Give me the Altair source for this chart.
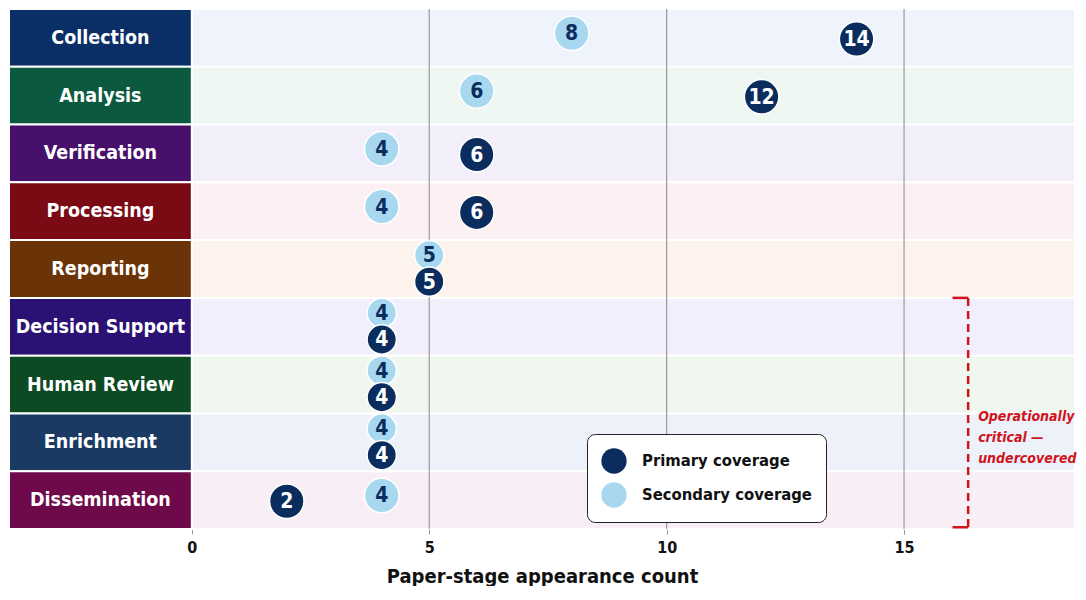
import altair as alt
import pandas as pd

# ---- data ----
stages = ["Collection", "Analysis", "Verification", "Processing", "Reporting",
          "Decision Support", "Human Review", "Enrichment", "Dissemination"]
primary = [14, 12, 6, 6, 5, 4, 4, 4, 2]
secondary = [8, 6, 4, 4, 5, 4, 4, 4, 4]
box_colors = ["#0a2f66", "#0b5a3f", "#47106a", "#7a0a14", "#6b3308",
              "#2a1173", "#0b4a22", "#1b3a63", "#6e0a4a"]
bg_colors = ["#eef3fc", "#eef7f2", "#f3effa", "#fcf0f2", "#fdf3ec",
             "#f1effb", "#f0f7ef", "#edf2fa", "#f8eef5"]
series_names = ["Primary coverage", "Secondary coverage"]
series_colors = ["#0b2d5e", "#a8d8f0"]
grid_values = [5, 10, 15]
tick_values = [0, 5, 10, 15]
note_lines = ["Operationally", "critical —", "undercovered"]

FONT = "Liberation Sans Narrow, DejaVu Sans Condensed, sans-serif"
XMIN, XMAX = -3.85, 18.6
W, H = 1066, 520

rows = pd.DataFrame({
    "stage": stages,
    "i": list(range(len(stages))),
    "box": box_colors,
    "bg": bg_colors,
})
rows["i1"] = rows["i"] + 1
rows["ic"] = rows["i"] + 0.5
rows["bx0"] = XMIN
rows["bx1"] = 0.0
rows["gx0"] = 0.0
rows["gx1"] = XMAX
rows["lx"] = XMIN / 2

pts = []
for k, s in enumerate(stages):
    same = primary[k] == secondary[k]
    pts.append({"stage": s, "series": series_names[1], "value": secondary[k],
                "y": k + 0.5 + (-0.24 if same else -0.08),
                "sz": 860 if same else 1190, "tc": series_colors[0]})
    pts.append({"stage": s, "series": series_names[0], "value": primary[k],
                "y": k + 0.5 + (0.22 if same else 0.02),
                "sz": 860 if same else 1190, "tc": "#ffffff"})
pts = pd.DataFrame(pts)

xs = alt.Scale(domain=[XMIN, XMAX], nice=False, zero=False)
ys = alt.Scale(domain=[0, 9], reverse=True, nice=False, zero=False)

xaxis = alt.Axis(values=tick_values, grid=False, domain=False, tickColor="#999999",
                 tickSize=5, labelFontSize=16, labelFontWeight="bold", labelColor="#111111",
                 labelFont=FONT, labelPadding=5, title="Paper-stage appearance count",
                 titleFont=FONT, titleFontSize=20, titleFontWeight="bold",
                 titleColor="#111111", titlePadding=11)

bg = alt.Chart(rows).mark_rect(stroke="white", strokeWidth=2).encode(
    x=alt.X("gx0:Q", scale=xs, axis=xaxis), x2="gx1:Q",
    y=alt.Y("i:Q", scale=ys, axis=None), y2="i1:Q",
    color=alt.Color("bg:N", scale=None),
)

boxes = alt.Chart(rows).mark_rect(stroke="white", strokeWidth=2).encode(
    x=alt.X("bx0:Q", scale=xs, axis=xaxis), x2="bx1:Q",
    y=alt.Y("i:Q", scale=ys, axis=None), y2="i1:Q",
    color=alt.Color("box:N", scale=None),
)

box_text = alt.Chart(rows).mark_text(font=FONT, fontSize=19.5, fontWeight="bold",
                                     color="white", baseline="middle", align="center").encode(
    x=alt.X("lx:Q", scale=xs, axis=xaxis),
    y=alt.Y("ic:Q", scale=ys, axis=None),
    text="stage:N",
)

grid = alt.Chart(pd.DataFrame({"g": grid_values})).mark_rule(
    color="#9a9a9a", strokeWidth=1.2).encode(
    x=alt.X("g:Q", scale=xs, axis=xaxis),
    y=alt.value(0), y2=alt.value(H),
)

dots = alt.Chart(pts).mark_circle(opacity=1, stroke="white", strokeWidth=1.5).encode(
    x=alt.X("value:Q", scale=xs, axis=xaxis),
    y=alt.Y("y:Q", scale=ys, axis=None),
    size=alt.Size("sz:Q", scale=None, legend=None),
    color=alt.Color("series:N", scale=alt.Scale(domain=series_names, range=series_colors),
                    legend=alt.Legend(title=None, orient="none", legendX=578, legendY=425,
                                      fillColor="white", strokeColor="#222222",
                                      cornerRadius=8, padding=14, symbolType="circle",
                                      symbolSize=640, symbolStrokeWidth=0,
                                      labelFont=FONT, labelFontSize=16.5,
                                      labelFontWeight="bold", labelColor="#111111",
                                      labelLimit=400, labelOffset=15, rowPadding=8)),
)

dot_text = alt.Chart(pts).mark_text(font=FONT, fontSize=21, fontWeight="bold",
                                    baseline="middle", align="center", dy=1).encode(
    x=alt.X("value:Q", scale=xs, axis=xaxis),
    y=alt.Y("y:Q", scale=ys, axis=None),
    text="value:Q",
    color=alt.Color("tc:N", scale=None),
)

RED = "#d0141c"
bx = 16.35
bracket_v = alt.Chart(pd.DataFrame({"x": [bx], "y0": [5.0], "y1": [8.97]})).mark_rule(
    color=RED, strokeWidth=2.5, strokeDash=[8, 5]).encode(
    x=alt.X("x:Q", scale=xs, axis=xaxis),
    y=alt.Y("y0:Q", scale=ys, axis=None), y2="y1:Q",
)
bracket_h = alt.Chart(pd.DataFrame({"x0": [16.02, 16.02], "x1": [bx, bx], "y": [5.0, 8.97]})).mark_rule(
    color=RED, strokeWidth=2.5).encode(
    x=alt.X("x0:Q", scale=xs, axis=xaxis), x2="x1:Q",
    y=alt.Y("y:Q", scale=ys, axis=None),
)
note = alt.Chart(pd.DataFrame({"x": [16.56], "y": [7.07], "t": [note_lines]})).mark_text(
    font=FONT, fontSize=14, fontWeight="bold", fontStyle="italic", color=RED,
    align="left", baseline="middle", lineHeight=21).encode(
    x=alt.X("x:Q", scale=xs, axis=xaxis),
    y=alt.Y("y:Q", scale=ys, axis=None),
    text="t",
)

chart = alt.layer(bg, boxes, box_text, grid, dots, dot_text, bracket_v, bracket_h, note).properties(
    width=W, height=H, padding=0,
).configure_view(stroke=None).configure(background="white")

chart.save("out.html", embed_options={"renderer": "svg", "actions": False})
